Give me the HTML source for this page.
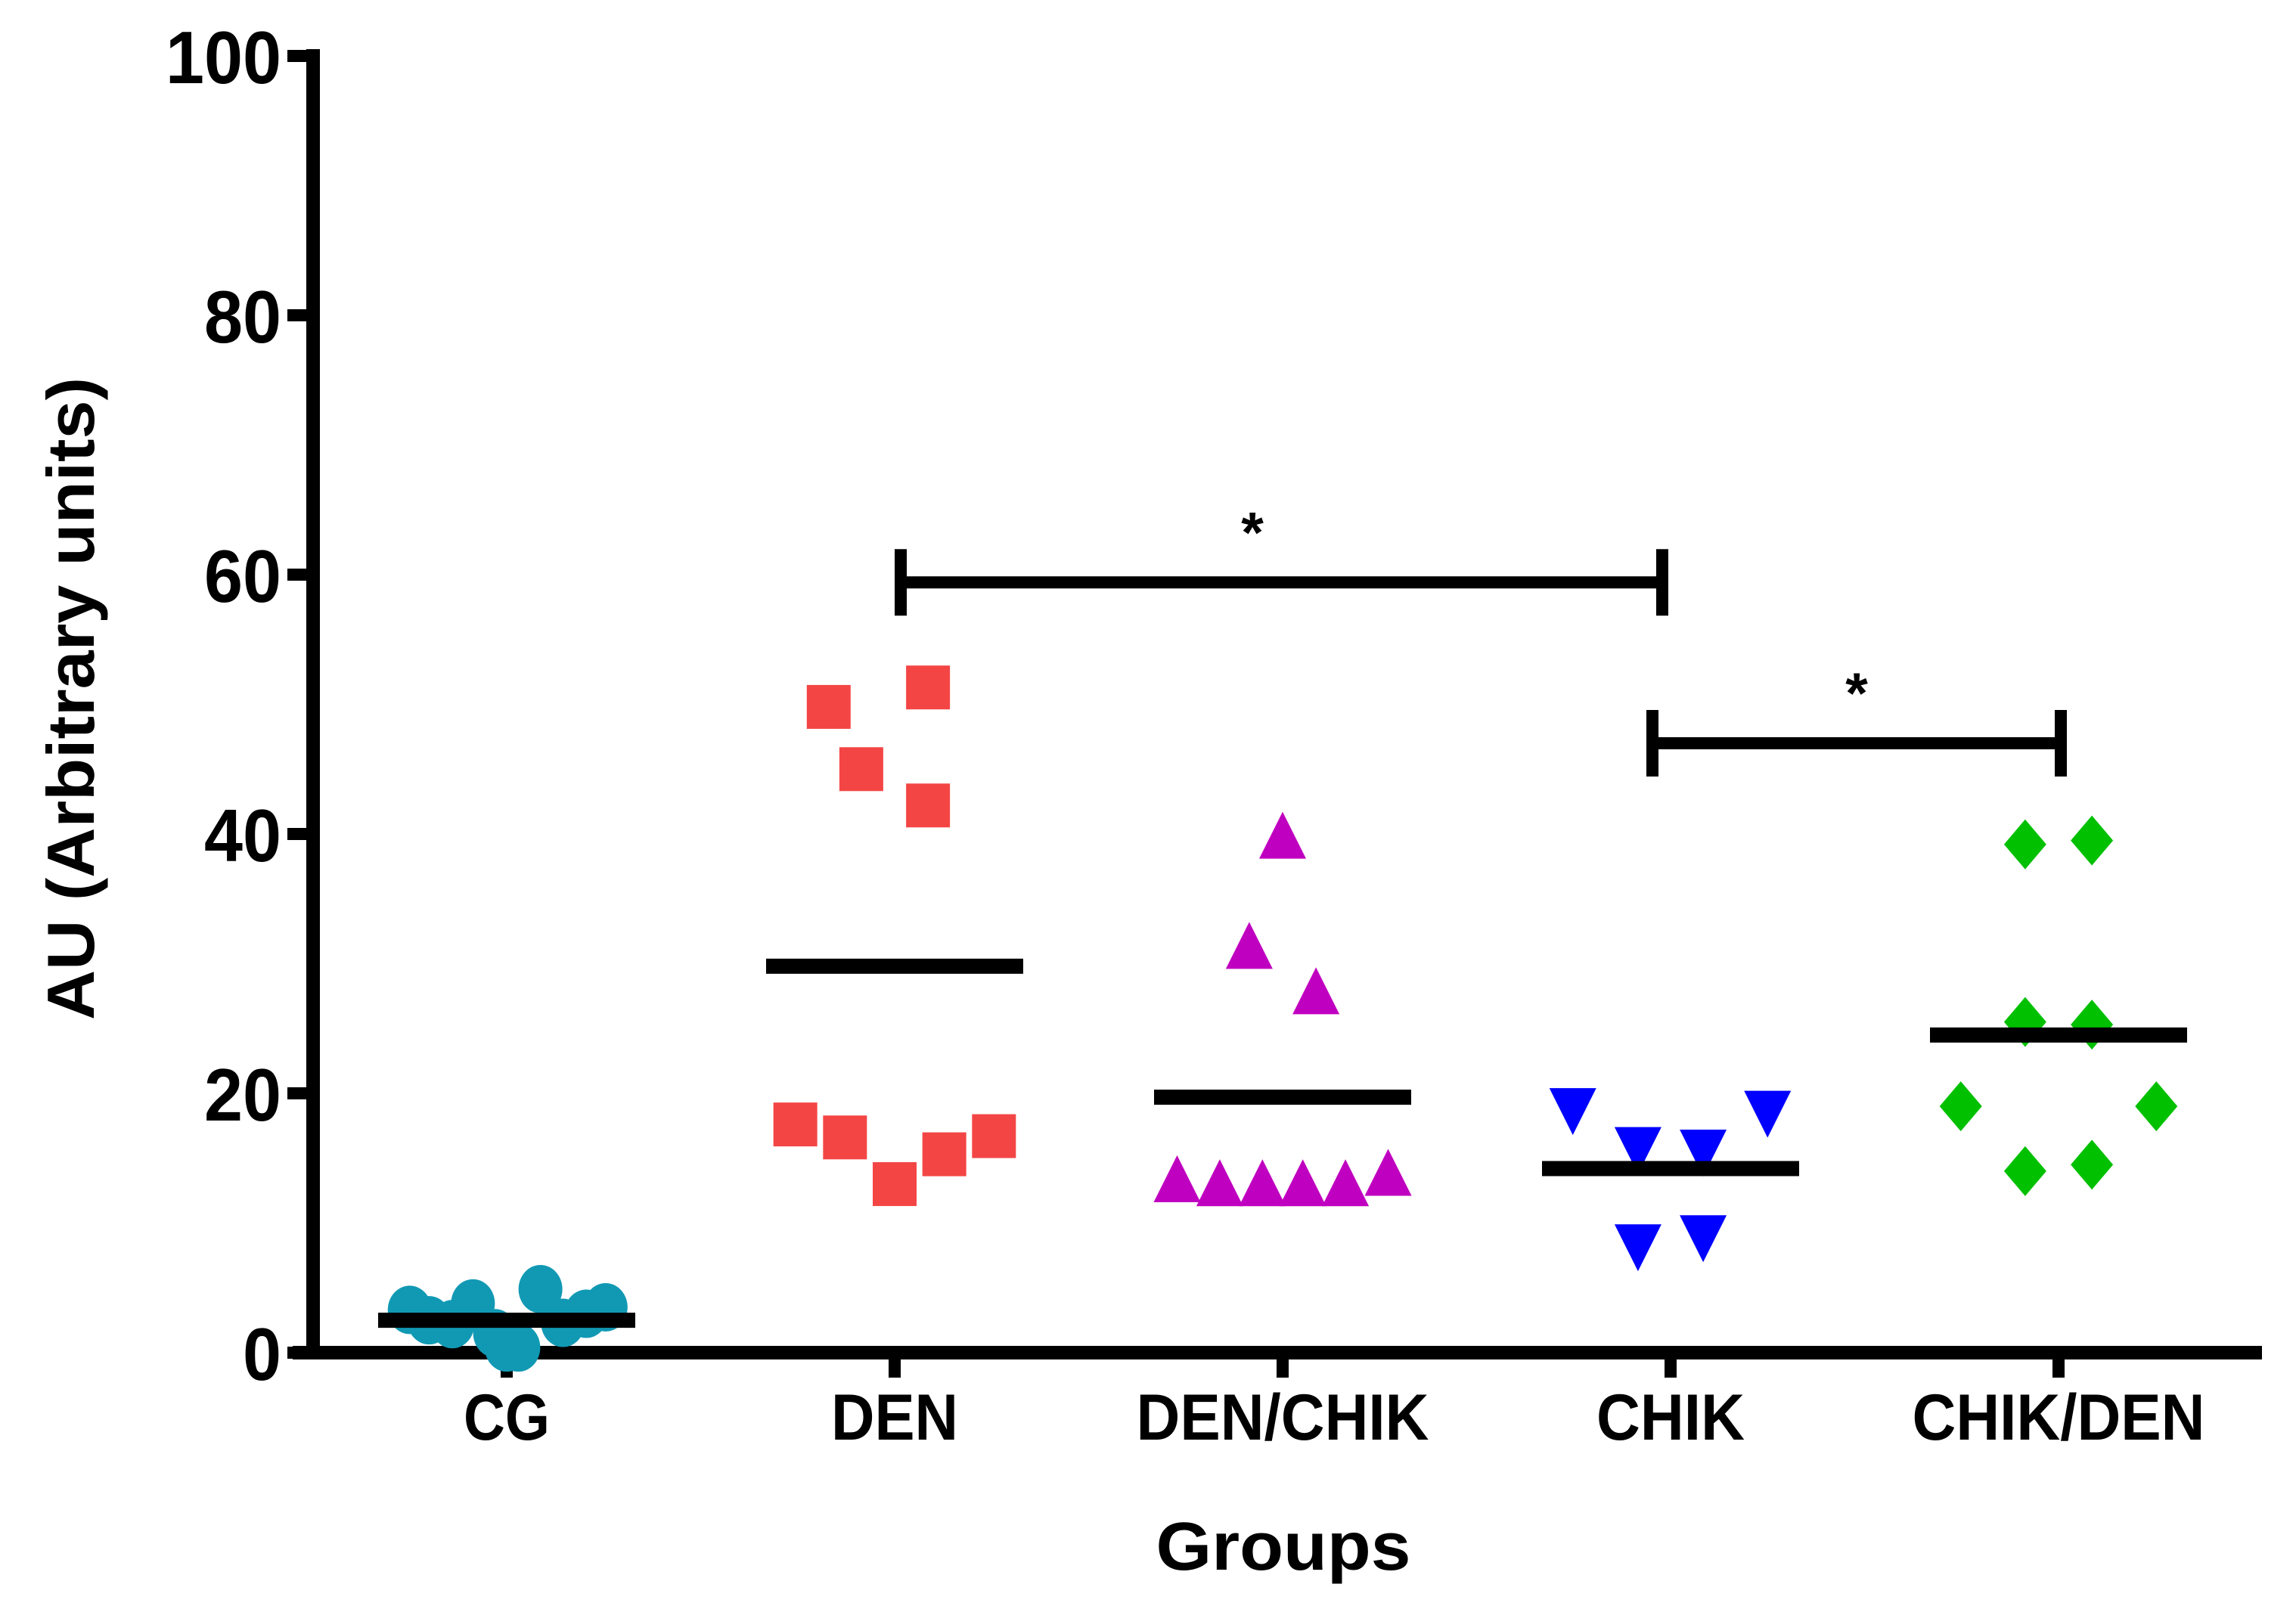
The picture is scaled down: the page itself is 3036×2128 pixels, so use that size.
<!DOCTYPE html>
<html><head><meta charset="utf-8"><style>
html,body{margin:0;padding:0;background:#fff}
svg{display:block}
text{font-family:"Liberation Sans",sans-serif;font-weight:bold;fill:#000}
</style></head><body>
<svg id="chart" width="3036" height="2128" viewBox="0 0 3036 2128" xmlns="http://www.w3.org/2000/svg"></svg>
<script>
const categories = ["CG","DEN","DEN/CHIK","CHIK","CHIK/DEN"];
const yTicks = [0,20,40,60,80,100];
const means = [2.5,29.8,19.7,14.2,24.5];
// offsets: fraction of category spacing; values: AU
const cgOffsets = [-0.25,-0.20,-0.14,-0.087,-0.03,0,0.03,0.087,0.145,0.205,0.255];
const cgValues = [3.3,2.5,2.2,3.8,1.5,0.4,0.4,4.9,2.3,3.0,3.5];
const denOffsets = [-0.17,0.086,-0.086,0.086,-0.256,-0.128,0,0.128,0.256];
const denValues = [49.8,51.3,45.0,42.2,17.6,16.6,13.0,15.3,16.7];
const dcOffsets = [0,-0.086,0.086,-0.272,-0.162,-0.052,0.052,0.162,0.272];
const dcValues = [39.5,31.0,27.5,13.0,12.7,12.7,12.7,12.7,13.5];
const chikOffsets = [-0.252,-0.084,0.084,0.25,-0.084,0.084];
const chikValues = [19.0,16.0,15.8,18.8,8.5,9.2];
const cdOffsets = [-0.086,0.086,-0.086,0.086,-0.252,0.252,-0.086,0.086];
const cdValues = [39.2,39.5,25.5,25.3,19.0,19.0,14.0,14.5];
const sigFrom = [1,3];
const sigTo = [3,4];
const sigLevel = [59.4,47.0];

const svg = document.getElementById('chart');
const NS = 'http://www.w3.org/2000/svg';
const x0 = 670, dx = 513, yZero = 1789, yTop = 74;
const X = i => x0 + i*dx;
const Y = v => yZero - (v/100)*(yZero-yTop);
function mk(tag, attrs){const e=document.createElementNS(NS,tag);for(const k in attrs)e.setAttribute(k,attrs[k]);svg.appendChild(e);return e;}
const labelWidths = [114,168,387,196,387];

let e;
e = mk('line',{x1:414,y1:Y(100)-9,x2:414,y2:yZero+9,stroke:'#000','stroke-width':18});


e = mk('line',{x1:387,y1:yZero,x2:2991,y2:yZero,stroke:'#000','stroke-width':18});


yTicks.forEach(t=>{
  e = mk('line',{x1:380,y1:Y(t),x2:414,y2:Y(t),stroke:'#000','stroke-width':16});
  
  
  e = mk('text',{x:372,y:Y(t)+36,'text-anchor':'end','font-size':98});
  e.textContent = t;
  
  
  e.setAttribute('textLength', String(t).length*51);
  e.setAttribute('lengthAdjust','spacingAndGlyphs');
});
categories.forEach((c,i)=>{
  e = mk('line',{x1:X(i),y1:yZero,x2:X(i),y2:1822,stroke:'#000','stroke-width':16});
  
  
  e = mk('text',{x:X(i),y:1904,'text-anchor':'middle','font-size':86,textLength:labelWidths[i],lengthAdjust:'spacingAndGlyphs'});
  e.textContent = c;
  
  
});
e = mk('text',{x:1697,y:2076,'text-anchor':'middle','font-size':90,textLength:337,lengthAdjust:'spacingAndGlyphs'});
e.textContent='Groups';


e = mk('text',{x:0,y:0,'text-anchor':'middle','font-size':88,transform:'translate(124,924) rotate(-90)',textLength:850,lengthAdjust:'spacingAndGlyphs'});
e.textContent='AU (Arbitrary units)';



const r = 29;
cgValues.forEach((v,k)=>{
  e = mk('ellipse',{cx:X(0)+cgOffsets[k]*dx,cy:Y(v),rx:r,ry:r+3,fill:'#1199B4'});
  
  
});
denValues.forEach((v,k)=>{
  const cx=X(1)+denOffsets[k]*dx, cy=Y(v);
  e = mk('rect',{x:cx-29,y:cy-29,width:58,height:58,fill:'#F44545'});
  
  
});
dcValues.forEach((v,k)=>{
  const cx=X(2)+dcOffsets[k]*dx, cy=Y(v);
  e = mk('polygon',{points:`${cx},${cy-38} ${cx-31},${cy+24} ${cx+31},${cy+24}`,fill:'#C000C0'});
  
  
});
chikValues.forEach((v,k)=>{
  const cx=X(3)+chikOffsets[k]*dx, cy=Y(v);
  e = mk('polygon',{points:`${cx-31},${cy-24} ${cx+31},${cy-24} ${cx},${cy+38}`,fill:'#0000FF'});
  
  
});
cdValues.forEach((v,k)=>{
  const cx=X(4)+cdOffsets[k]*dx, cy=Y(v);
  e = mk('polygon',{points:`${cx},${cy-33} ${cx+28},${cy} ${cx},${cy+33} ${cx-28},${cy}`,fill:'#00C000'});
  
  
});
means.forEach((m,i)=>{
  e = mk('line',{x1:X(i)-170,y1:Y(m),x2:X(i)+170,y2:Y(m),stroke:'#000','stroke-width':20});
  
  
});
const bracketEnds = [[1191,2198],[2185,2725]];
const starX = [1656,2455];
sigLevel.forEach((lv,k)=>{
  const y=Y(lv), xs=bracketEnds[k];
  e = mk('path',{d:`M${xs[0]},${y-44} V${y+44} M${xs[0]},${y} H${xs[1]} M${xs[1]},${y-44} V${y+44}`,stroke:'#000','stroke-width':16,fill:'none'});
  
  
  e = mk('text',{x:starX[k],y:y-40,'text-anchor':'middle','font-size':76});
  e.textContent='*';
  
  
});
</script>
</body></html>
